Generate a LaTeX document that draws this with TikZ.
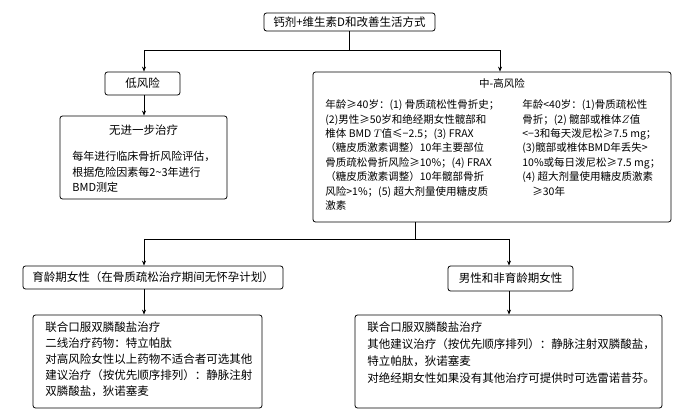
\documentclass[tikz,border=0pt]{standalone}
\usepackage{fontspec}
\setmainfont{Noto Sans CJK SC}
\usetikzlibrary{arrows.meta}

\begin{document}
\begin{tikzpicture}[x=1pt, y=-1pt, line width=0.8pt,
  box/.style={draw, rounded corners=2.5pt, inner sep=0pt, font=\fontsize{11.5}{16}\selectfont},
  txt/.style={anchor=north west, align=left, inner sep=0pt, font=\fontsize{11.5}{16}\selectfont},
  small/.style={anchor=north west, align=left, inner sep=0pt, font=\fontsize{10.5}{14.4}\selectfont},
  >={Stealth[length=5pt,width=4pt]}]

\useasboundingbox (0,0) rectangle (700,411);

% boxes
\node[box, minimum width=171pt, minimum height=18pt] (T) at (349.5,22) {钙剂+维生素D和改善生活方式};
\node[box, minimum width=75pt, minimum height=23pt] (L) at (142.5,83.5) {低风险};
\node[box, minimum width=167pt, minimum height=83pt] (N) at (143.5,157.5) {};
\node[box, minimum width=358pt, minimum height=150pt] (H) at (492,147) {};
\node[box, minimum width=260pt, minimum height=23pt] (F) at (153,277.5) {育龄期女性（在骨质疏松治疗期间无怀孕计划）};
\node[box, minimum width=125pt, minimum height=25pt] (M) at (510.5,278.5) {男性和非育龄期女性};
\node[box, minimum width=229pt, minimum height=93pt] (F1) at (147.5,361.5) {};
\node[box, minimum width=307pt, minimum height=93pt] (M1) at (508.5,361.5) {};

% texts
\node[font=\fontsize{11.5}{16}\selectfont, inner sep=0pt] (N0) at (143.5,130) {无进一步治疗};
\node[txt, font=\fontsize{11}{15.5}\selectfont] (N1) at (72,151) {每年进行临床骨折风险评估，\\根据危险因素每2\textasciitilde 3年进行\\BMD测定};
\node[font=\fontsize{10.5}{14}\selectfont, inner sep=0pt] (H0) at (502,83) {中-高风险};
\node[small] (H1) at (325,99.5) {年龄≥40岁：(1) 骨质疏松性骨折史；\\(2)男性≥50岁和绝经期女性髋部和\\椎体 BMD $T$值≤−2.5；(3) FRAX\\（糖皮质激素调整）10年主要部位\\骨质疏松骨折风险≥10\%；(4) FRAX\\（糖皮质激素调整）10年髋部骨折\\风险>1\%；(5) 超大剂量使用糖皮质\\激素};
\node[small] (H2) at (522,99.5) {年龄<40岁：(1)骨质疏松性\\骨折；(2) 髋部或椎体$Z$值\\<−3和每天泼尼松≥7.5 mg；\\(3)髋部或椎体BMD年丢失>\\10\%或每日泼尼松≥7.5 mg；\\(4) 超大剂量使用糖皮质激素\\\hspace*{10pt}≥30年};
\node[txt] (F2) at (45,321.5) {联合口服双膦酸盐治疗\\二线治疗药物：特立帕肽\\对高风险女性以上药物不适合者可选其他\\建议治疗（按优先顺序排列）：静脉注射\\双膦酸盐，狄诺塞麦};
\node[txt, font=\fontsize{11.5}{17}\selectfont] (M2) at (367,321.5) {联合口服双膦酸盐治疗\\其他建议治疗（按优先顺序排列）：静脉注射双膦酸盐，\\特立帕肽，狄诺塞麦\\对绝经期女性如果没有其他治疗可提供时可选雷诺昔芬。};

% connectors
\coordinate (A) at (144,50.5);
\coordinate (B) at (500,50.5);
\coordinate (C) at (144,239);
\coordinate (D) at (509,239);
\coordinate (P) at (415,239);

\draw (T.south) -- (T.south |- A);
\draw (A) -- (B);
\draw[->] (A) -- (A |- L.north);
\draw[->] (B) -- (B |- H.north);
\draw[->] (L.south -| A) -- (A |- N.north);

\draw (P |- H.south) -- (P);
\draw (C) -- (D);
\draw[->] (C) -- (C |- F.north);
\draw[->] (D) -- (D |- M.north);
\draw[->] (F.south -| C) -- (C |- F1.north);
\draw[->] (M.south -| D) -- (D |- M1.north);

\end{tikzpicture}
\end{document}
